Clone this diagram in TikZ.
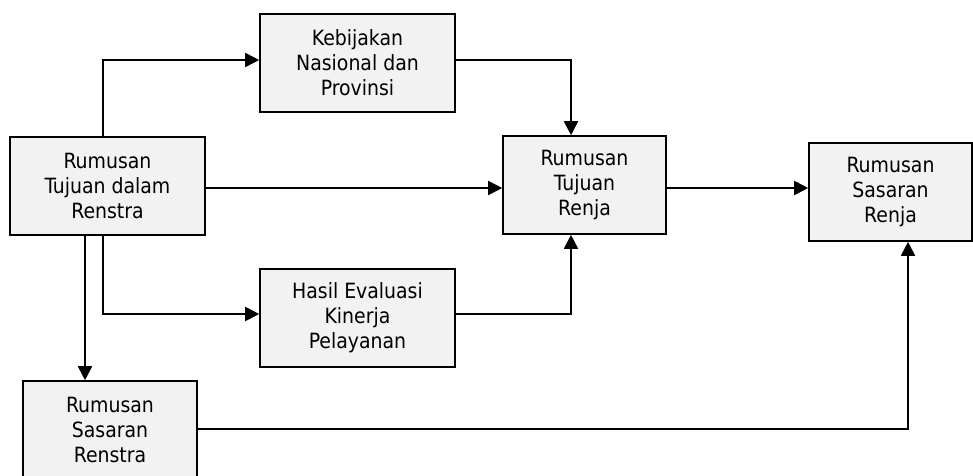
\documentclass[tikz,border=0pt]{standalone}
\usepackage{fontspec}
\setmainfont{DejaVu Sans Condensed}
\usetikzlibrary{arrows.meta}
\definecolor{boxfill}{HTML}{F2F2F2}
\tikzset{
  box/.style={draw=black, line width=1.6pt, fill=boxfill, rectangle, align=center,
    inner sep=0pt, font=\fontsize{21pt}{25pt}\selectfont},
  arr/.style={line width=1.8pt, -{Triangle[length=14pt,width=14pt]}},
  ln/.style={line width=1.6pt}
}
\begin{document}
\begin{tikzpicture}[x=1pt,y=-1pt]
\useasboundingbox (0,0) rectangle (973,475);
\node[box, minimum width=195pt, minimum height=98pt] (keb) at (357.5,63) {Kebijakan\\Nasional dan\\Provinsi};
\node[box, minimum width=195pt, minimum height=98pt] (rtr) at (107.5,186) {Rumusan\\Tujuan dalam\\Renstra};
\node[box, minimum width=163pt, minimum height=98pt] (rtj) at (584.5,185) {Rumusan\\Tujuan\\Renja};
\node[box, minimum width=163pt, minimum height=98pt] (rsj) at (890.5,192) {Rumusan\\Sasaran\\Renja};
\node[box, minimum width=195pt, minimum height=98pt] (hes) at (357.5,318) {Hasil Evaluasi\\Kinerja\\Pelayanan};
\node[box, minimum width=174pt, minimum height=98pt] (rsr) at (110,430) {Rumusan\\Sasaran\\Renstra};

\coordinate (a1) at (103,60);
\coordinate (a2) at (571,60);
\coordinate (b1) at (103,314);
\coordinate (b2) at (571,314);
\coordinate (c2) at (908,429);

\draw[arr] (rtr.north -| a1) -- (a1) -- (keb.west |- a1);
\draw[arr] (keb.east |- a2) -- (a2) -- (rtj.north -| a2);
\draw[arr] (rtr.east |- 0,188) -- (rtj.west |- 0,188);
\draw[arr] (rtj.east |- 0,188) -- (rsj.west |- 0,188);
\draw[arr] (rtr.south -| b1) -- (b1) -- (hes.west |- b1);
\draw[arr] (hes.east |- b2) -- (b2) -- (rtj.south -| b2);
\draw[arr] (rtr.south -| 85,0) -- (rsr.north -| 85,0);
\draw[arr] (rsr.east |- c2) -- (c2) -- (rsj.south -| c2);
\end{tikzpicture}
\end{document}
